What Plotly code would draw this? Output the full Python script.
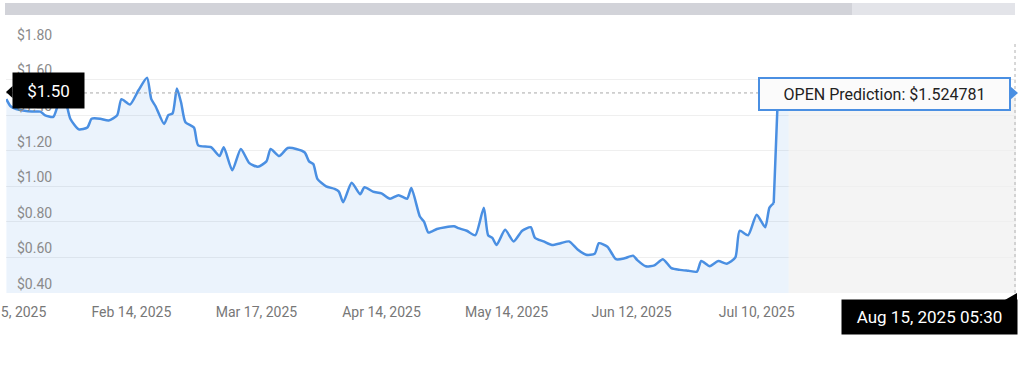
import pandas as pd
import plotly.graph_objects as go

# ---------------- data ----------------
DATES = [
    "2025-01-15", "2025-01-16", "2025-01-18", "2025-01-21", "2025-01-23", "2025-01-24",
    "2025-01-26", "2025-01-27", "2025-01-28", "2025-01-29", "2025-01-30", "2025-02-01",
    "2025-02-03", "2025-02-04", "2025-02-06", "2025-02-08", "2025-02-10", "2025-02-11",
    "2025-02-13", "2025-02-15", "2025-02-17", "2025-02-18", "2025-02-19", "2025-02-21",
    "2025-02-22", "2025-02-23", "2025-02-24", "2025-02-25", "2025-02-26", "2025-02-28",
    "2025-03-01", "2025-03-04", "2025-03-06", "2025-03-07", "2025-03-09", "2025-03-11",
    "2025-03-13", "2025-03-15", "2025-03-17", "2025-03-18", "2025-03-20", "2025-03-22",
    "2025-03-24", "2025-03-26", "2025-03-27", "2025-03-28", "2025-03-29", "2025-03-31",
    "2025-04-02", "2025-04-03", "2025-04-04", "2025-04-06", "2025-04-08", "2025-04-09",
    "2025-04-11", "2025-04-13", "2025-04-15", "2025-04-17", "2025-04-19", "2025-04-20",
    "2025-04-22", "2025-04-23", "2025-04-24", "2025-04-26", "2025-04-28", "2025-04-30",
    "2025-05-01", "2025-05-03", "2025-05-05", "2025-05-07", "2025-05-08", "2025-05-09",
    "2025-05-10", "2025-05-12", "2025-05-14", "2025-05-16", "2025-05-18", "2025-05-19",
    "2025-05-21", "2025-05-23", "2025-05-25", "2025-05-27", "2025-05-29", "2025-05-31",
    "2025-06-02", "2025-06-03", "2025-06-05", "2025-06-07", "2025-06-09", "2025-06-11",
    "2025-06-12", "2025-06-14", "2025-06-16", "2025-06-18", "2025-06-20", "2025-06-22",
    "2025-06-24", "2025-06-26", "2025-06-27", "2025-06-29", "2025-07-01", "2025-07-03",
    "2025-07-05", "2025-07-06", "2025-07-08", "2025-07-10", "2025-07-12", "2025-07-13",
    "2025-07-14",
]
PRICES = [
    1.49, 1.45, 1.43, 1.42, 1.42, 1.40,
    1.39, 1.45, 1.51, 1.47, 1.38, 1.32,
    1.33, 1.38, 1.38, 1.37, 1.40, 1.49,
    1.46, 1.54, 1.61, 1.49, 1.45, 1.35,
    1.40, 1.41, 1.55, 1.47, 1.36, 1.33,
    1.23, 1.22, 1.17, 1.22, 1.09, 1.21,
    1.13, 1.11, 1.14, 1.21, 1.17, 1.215,
    1.21, 1.19, 1.14, 1.125, 1.04, 1.00,
    0.985, 0.97, 0.91, 1.02, 0.955, 0.995,
    0.97, 0.96, 0.93, 0.95, 0.93, 0.99,
    0.83, 0.80, 0.74, 0.76, 0.77, 0.775,
    0.765, 0.75, 0.725, 0.88, 0.725, 0.71,
    0.67, 0.755, 0.69, 0.75, 0.77, 0.71,
    0.69, 0.67, 0.68, 0.69, 0.645, 0.615,
    0.62, 0.68, 0.66, 0.59, 0.595, 0.61,
    0.585, 0.55, 0.555, 0.59, 0.54, 0.53,
    0.525, 0.52, 0.58, 0.55, 0.58, 0.565,
    0.60, 0.75, 0.725, 0.84, 0.77, 0.88,
    0.905,
]
PRED_DATES = ["2025-07-15", "2025-07-17 12:00"]
PRED_VALUE = 1.524781
FORECAST_START = "2025-07-17 12:00"
X_RANGE = ["2025-01-14 22:00", "2025-09-08 20:00"]
TICK_LABELS = ["Jan 15, 2025", "Feb 14, 2025", "Mar 17, 2025", "Apr 14, 2025",
               "May 14, 2025", "Jun 12, 2025", "Jul 10, 2025"]
TICK_FIRST, TICK_LAST = "2025-01-15", "2025-07-10"
Y_TICKS = [0.4, 0.6, 0.8, 1.0, 1.2, 1.4, 1.6, 1.8]
Y_RANGE = [0.4, 1.8]
LEFT_LABEL = "$1.50"
TOOLTIP = "OPEN Prediction: $1.524781"
CROSSHAIR_LABEL = "Aug 15, 2025 05:30"

# ---------------- layout geometry (pixels) ----------------
W, H = 1024, 365
PL, PR, PT, PB = 6, 1016, 44, 293


def px(x):
    return (x - PL) / (PR - PL)


def py(y):
    return (PB - y) / (PB - PT)


LINE = "#4a8fe2"
FILL = "rgba(74,143,226,0.11)"
FONT = "Roboto"

tick_pos = pd.date_range(TICK_FIRST, TICK_LAST, periods=len(TICK_LABELS))

fig = go.Figure()
fig.add_trace(go.Scatter(
    x=DATES, y=PRICES, mode="lines",
    line=dict(color=LINE, width=2.5, shape="spline", smoothing=0.6),
    fill="tozeroy", fillcolor=FILL, hoverinfo="skip", showlegend=False,
))
fig.add_trace(go.Scatter(
    x=[DATES[-1]] + PRED_DATES, y=[PRICES[-1], PRED_VALUE, PRED_VALUE], mode="lines",
    line=dict(color=LINE, width=2.5),
    fill="tozeroy", fillcolor=FILL, hoverinfo="skip", showlegend=False,
))

shapes = [
    # forecast zone
    dict(type="rect", xref="x", yref="y", x0=FORECAST_START, x1=X_RANGE[1],
         y0=Y_RANGE[0], y1=PRED_VALUE, fillcolor="#f4f4f4", line=dict(width=0), layer="below"),
    # horizontal dashed level
    dict(type="line", xref="paper", yref="y", x0=0, x1=1, y0=PRED_VALUE, y1=PRED_VALUE,
         line=dict(color="#a8a8a8", width=1, dash="3px,3px"), layer="above"),
    # vertical crosshair
    dict(type="line", xref="paper", yref="paper", x0=px(1015), x1=px(1015), y0=0, y1=1,
         line=dict(color="#b0b0b0", width=1, dash="3px,3px"), layer="above"),
    # top navigator bar
    dict(type="rect", xref="paper", yref="paper", x0=px(5), x1=px(852), y0=py(15), y1=py(3),
         fillcolor="#d2d3d9", line=dict(width=0)),
    dict(type="rect", xref="paper", yref="paper", x0=px(852), x1=px(1015), y0=py(15), y1=py(3),
         fillcolor="#e3e4e9", line=dict(width=0)),
]

# pointer of left price label
shapes.append(dict(
    type="path", xref="paper", yref="paper",
    path=f"M {px(6)} {py(92)} L {px(12.5)} {py(86)} L {px(12.5)} {py(98)} Z",
    fillcolor="#000000", line=dict(width=0)))
# pointer of tooltip (to the right)
shapes.append(dict(
    type="path", xref="paper", yref="paper",
    path=f"M {px(1010)} {py(86)} L {px(1018)} {py(93)} L {px(1010)} {py(100)} Z",
    fillcolor=LINE, line=dict(width=0)))
# notch of crosshair date label
shapes.append(dict(
    type="path", xref="paper", yref="paper",
    path=f"M {px(1004)} {py(300.5)} L {px(1017)} {py(293)} L {px(1017)} {py(300.5)} Z",
    fillcolor="#000000", line=dict(width=0)))

annotations = [
    dict(text=LEFT_LABEL, xref="paper", yref="paper", x=px(12), y=py(90.5),
         xanchor="left", yanchor="middle", showarrow=False,
         font=dict(family=FONT, size=17, color="#ffffff"),
         bgcolor="#000000", width=57, height=21, borderpad=7),
    dict(text=TOOLTIP, xref="paper", yref="paper", x=px(884.5), y=py(94),
         xanchor="center", yanchor="middle", showarrow=False,
         font=dict(family=FONT, size=16, color="#222222"),
         bgcolor="#fbfbfb", bordercolor=LINE, borderwidth=2,
         width=239, height=20, borderpad=5),
    dict(text=CROSSHAIR_LABEL, xref="paper", yref="paper", x=px(929.5), y=py(317),
         xanchor="center", yanchor="middle", showarrow=False,
         font=dict(family=FONT, size=17, color="#ffffff"),
         bgcolor="#000000", width=161, height=20, borderpad=7),
]

fig.update_layout(
    width=W, height=H,
    margin=dict(l=PL, r=W - PR, t=PT, b=H - PB, pad=0, autoexpand=False),
    paper_bgcolor="#ffffff", plot_bgcolor="#ffffff",
    font=dict(family=FONT),
    showlegend=False,
    shapes=shapes,
    annotations=annotations,
    xaxis=dict(
        type="date", range=X_RANGE, tickvals=tick_pos, ticktext=TICK_LABELS,
        showgrid=False, zeroline=False, showline=False, ticks="",
        ticklabelstandoff=9, ticklabeloverflow="allow", automargin=False,
        tickfont=dict(family=FONT, size=14, color="#777777"),
        fixedrange=True,
    ),
    yaxis=dict(
        range=Y_RANGE, tickvals=Y_TICKS, ticktext=[f"${v:.2f}" for v in Y_TICKS],
        showgrid=True, gridcolor="#efefef", gridwidth=1, zeroline=False, showline=False,
        ticks="", ticklabelposition="inside", ticklabelstandoff=8, ticklabelshift=-9,
        ticklabeloverflow="allow", automargin=False,
        tickfont=dict(family=FONT, size=14, color="#8a8a8a"),
        fixedrange=True,
    ),
)

fig.write_html(
    "out.html",
    config={"displayModeBar": False, "staticPlot": True},
    post_script="document.body.style.margin='0';document.body.style.padding='0';",
)
